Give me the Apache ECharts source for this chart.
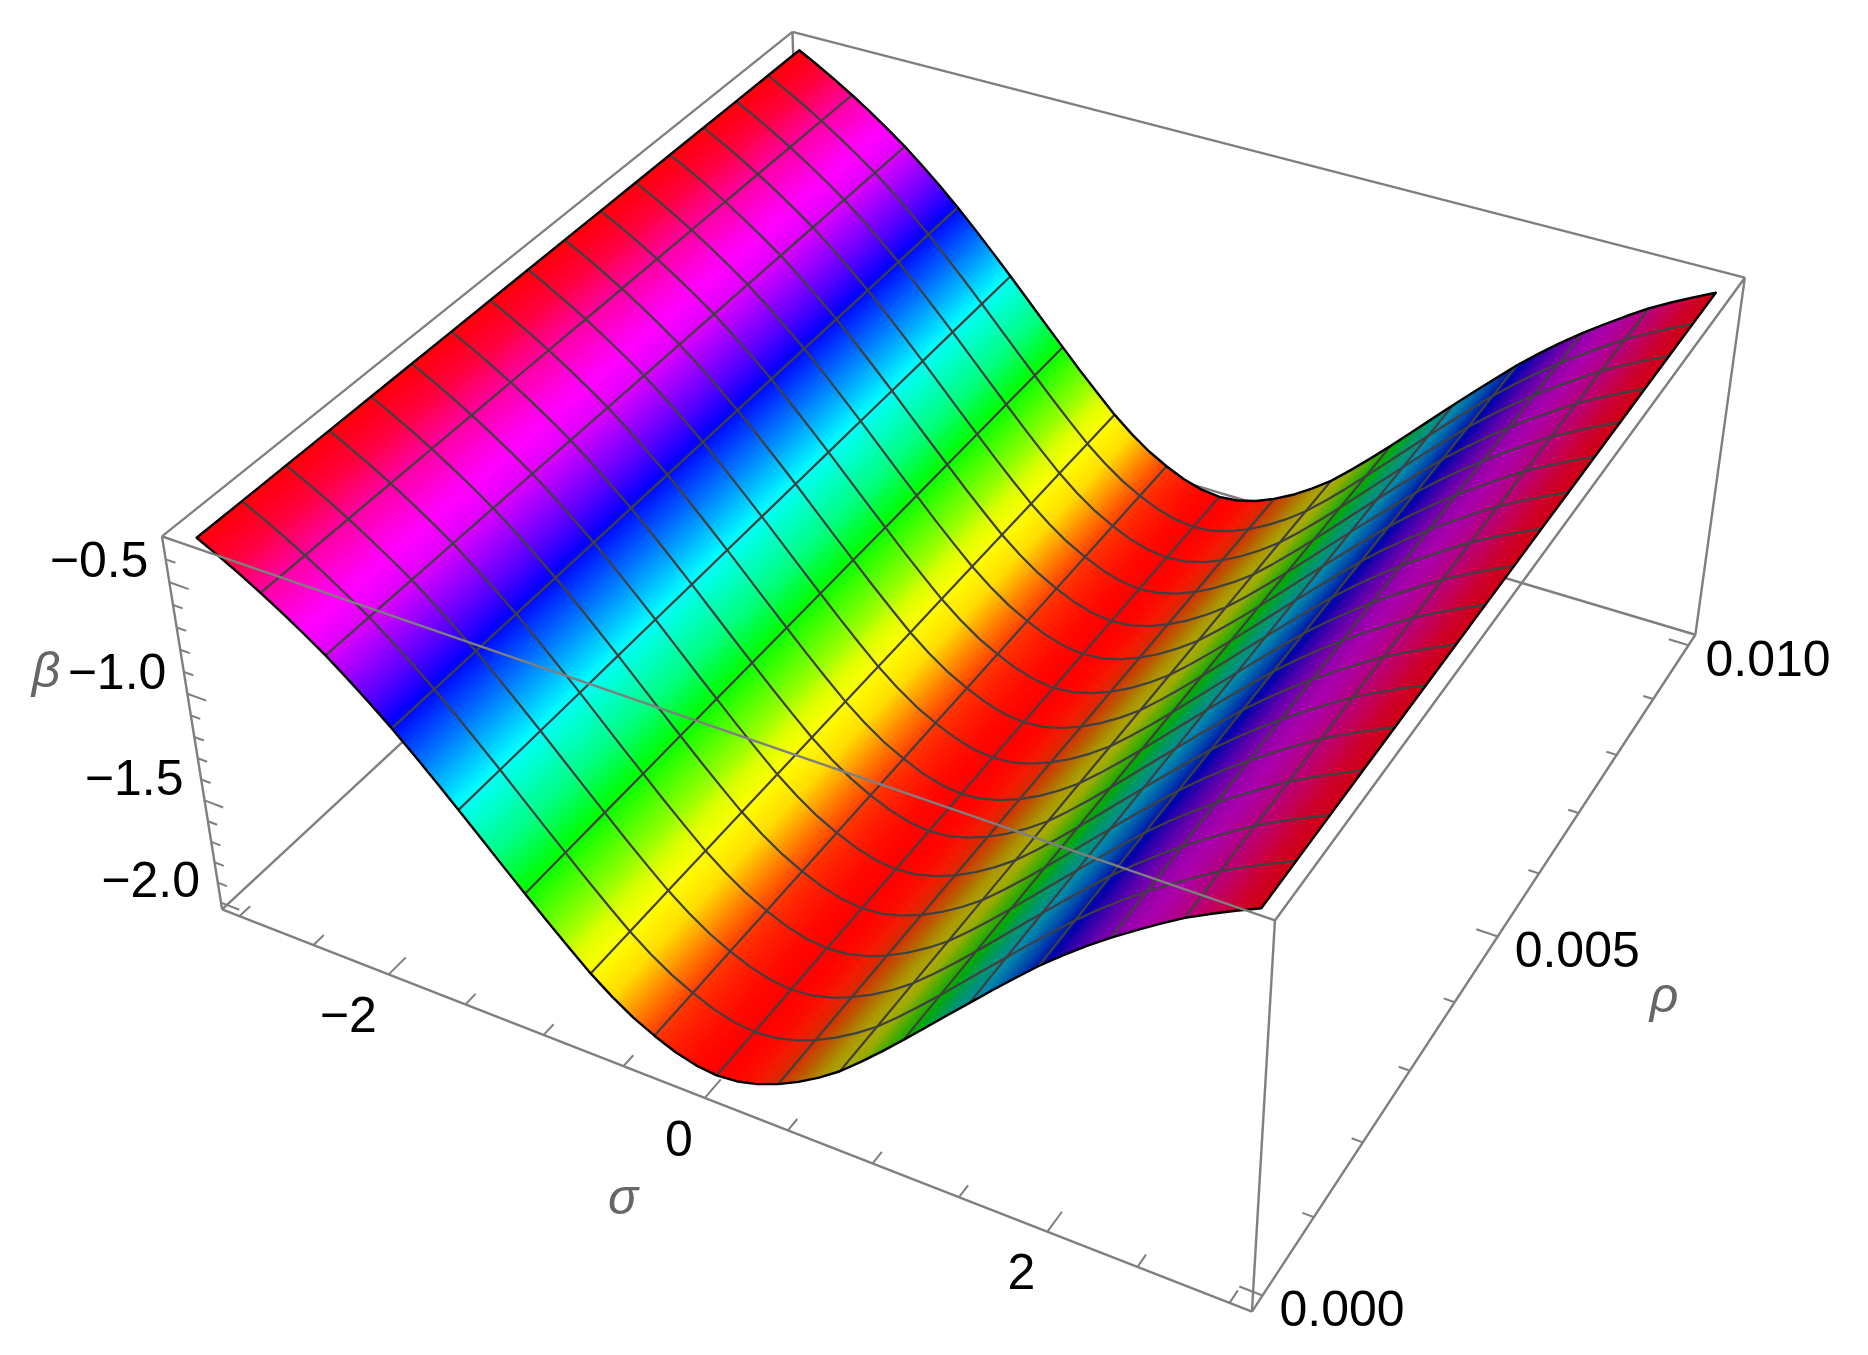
<!DOCTYPE html>
<html><head><meta charset="utf-8">
<style>html,body{margin:0;padding:0;background:#fff}#c{width:1868px;height:1355px}</style>
<script src="https://cdn.jsdelivr.net/npm/echarts@6/dist/echarts.min.js"></script>
</head><body><div id="c"></div>
<script>
// ---- data ----
const sigmaSamples = [-3,-2.875,-2.75,-2.625,-2.5,-2.375,-2.25,-2.125,-2,-1.875,-1.75,-1.625,-1.5,-1.375,-1.25,-1.125,-1,-0.875,-0.75,-0.625,-0.5,-0.375,-0.25,-0.125,0,0.125,0.25,0.375,0.5,0.625,0.75,0.875,1,1.125,1.25,1.375,1.5,1.625,1.75,1.875,2,2.125,2.25,2.375,2.5,2.625,2.75,2.875,3];
const betaValues = [-0.33,-0.377,-0.427,-0.481,-0.539,-0.6,-0.665,-0.738,-0.815,-0.896,-0.984,-1.075,-1.168,-1.264,-1.36,-1.454,-1.548,-1.638,-1.725,-1.8,-1.864,-1.914,-1.955,-1.982,-1.992,-1.983,-1.957,-1.918,-1.868,-1.808,-1.739,-1.656,-1.568,-1.476,-1.382,-1.287,-1.193,-1.099,-1.008,-0.918,-0.836,-0.759,-0.687,-0.62,-0.556,-0.495,-0.443,-0.394,-0.348];
const rhoMesh = [0,0.000625,0.00125,0.001875,0.0025,0.003125,0.00375,0.004375,0.005,0.005625,0.00625,0.006875,0.0075,0.008125,0.00875,0.009375,0.01];
const sigmaTicks = [-3,-2.5,-2,-1.5,-1,-0.5,0,0.5,1,1.5,2,2.5,3];
const sigmaMajor = [-2,0,2];
const sigmaLabels = ['−2','0','2'];
const rhoTicks = [0,0.001,0.002,0.003,0.004,0.005,0.006,0.007,0.008,0.009,0.01];
const rhoMajor = [0,0.005,0.01];
const rhoLabels = ['0.000','0.005','0.010'];
const betaTicks = [-2,-1.9,-1.8,-1.7,-1.6,-1.5,-1.4,-1.3,-1.2,-1.1,-1,-0.9,-0.8,-0.7,-0.6,-0.5,-0.4,-0.3];
const betaMajor = [-2,-1.5,-1,-0.5];
const betaLabels = ['−2.0','−1.5','−1.0','−0.5'];
// colour table: beta -> hue in degrees
const hueBeta = [-1.992,-1.92,-1.86,-1.8,-1.725,-1.66,-1.6,-1.454,-1.33,-1.168,-0.896,-0.8,-0.665,-0.58,-0.481,-0.4,-0.33];
const hueDeg  = [0,12,33,52,60,68,85,118,150,178,238,262,292,302,322,346,358];

// ---- plot box and camera ----
const sigmaRange = [-3.12,3.12], rhoRange = [-0.0002,0.0102], betaRange = [-2.033,-0.3];
// box corners [u,v,w] and where the view places them on the page, used to calibrate the camera
const cameraAnchors = [
 [0,0,1,163,536],[0,0,0,221,908],[1,0,0,1253,1311],[1,0,1,1274,923],
 [1,1,1,1744,278],[1,1,0,1696,633],[0,1,1,793,30],[0,1,0,804,372]
];
function calibrate(a){
  const n=11, N=Array.from({length:n},()=>new Array(n+1).fill(0));
  const add=(r,t)=>{for(let i=0;i<n;i++){for(let k=0;k<n;k++)N[i][k]+=r[i]*r[k];N[i][n]+=r[i]*t;}};
  a.forEach(([u,v,w,x,y])=>{x/=1000;y/=1000;
    add([u,v,w,1,0,0,0,0,-x*u,-x*v,-x*w],x);
    add([0,0,0,0,u,v,w,1,-y*u,-y*v,-y*w],y);});
  for(let c=0;c<n;c++){let p=c;for(let r=c+1;r<n;r++)if(Math.abs(N[r][c])>Math.abs(N[p][c]))p=r;
    [N[c],N[p]]=[N[p],N[c]];
    for(let r=0;r<n;r++)if(r!==c){const f=N[r][c]/N[c][c];for(let k=c;k<=n;k++)N[r][k]-=f*N[c][k];}}
  return N.map((r,i)=>r[n]/r[i]);
}
const P = calibrate(cameraAnchors);
const frac=(v,r)=>(v-r[0])/(r[1]-r[0]);
function project(s,r,b){
  const u=frac(s,sigmaRange),v=frac(r,rhoRange),w=frac(b,betaRange);
  const d=P[8]*u+P[9]*v+P[10]*w+1;
  return [1000*(P[0]*u+P[1]*v+P[2]*w+P[3])/d,1000*(P[4]*u+P[5]*v+P[6]*w+P[7])/d];
}
// ---- colour ----
function hueOf(b){
  if(b<=hueBeta[0])return hueDeg[0];
  for(let i=1;i<hueBeta.length;i++)if(b<=hueBeta[i]){const t=(b-hueBeta[i-1])/(hueBeta[i]-hueBeta[i-1]);return hueDeg[i-1]+t*(hueDeg[i]-hueDeg[i-1]);}
  return hueDeg[hueDeg.length-1];
}
function rgb(h,sh){
  h=((h%360)+360)%360;const x=h/60,c=1-Math.abs(x%2-1);
  const t=[[1,c,0],[c,1,0],[0,1,c],[0,c,1],[c,0,1],[1,0,c]][Math.floor(x)%6];
  const dark=(1-sh)/0.33; // the green light falls off faster on the shaded slope
  t[1]*=1-0.2*dark*Math.max(0,1-Math.abs(h-180)/60);
  return 'rgb('+t.map(v=>Math.round(v*255*sh)).join(',')+')';
}
function slopeAt(i){
  const a=Math.max(0,i-1),b=Math.min(betaValues.length-1,i+1);
  return (betaValues[b]-betaValues[a])/(sigmaSamples[b]-sigmaSamples[a]);
}
function shadeAt(s){ // surface turned away from the light is darker
  let t=(s-0.18)/0.35;t=Math.max(0,Math.min(1,t));t=t*t*(3-2*t);return 1-0.33*t;
}
// ---- rows for the series ----
const cells=[];
for(let j=rhoMesh.length-2;j>=0;j--)for(let i=0;i<sigmaSamples.length-1;i++)cells.push([i,j]);
const rhoLines=rhoMesh.slice(1,-1).map(r=>sigmaSamples.map((s,i)=>[s,r,betaValues[i]]));
const meshSigmaIdx=[];for(let i=3;i<sigmaSamples.length-1;i+=3)meshSigmaIdx.push(i);
const sigmaLines=meshSigmaIdx.map(i=>rhoMesh.map(r=>[sigmaSamples[i],r,betaValues[i]]));
const outline=[
 ...sigmaSamples.map((s,i)=>[s,0,betaValues[i]]),
 ...rhoMesh.map(r=>[3,r,betaValues[betaValues.length-1]]),
 ...sigmaSamples.map((s,i)=>[s,0.01,betaValues[i]]).reverse(),
 ...rhoMesh.map(r=>[-3,r,betaValues[0]]).reverse()
];
const [s0,s1]=sigmaRange,[r0,r1]=rhoRange,[b0,b1]=betaRange;
const backEdges=[
 [[s0,r1,b0],[s0,r1,b1]],[[s0,r0,b0],[s0,r1,b0]],[[s0,r1,b0],[s1,r1,b0]],
 [[s0,r1,b1],[s1,r1,b1]],[[s0,r0,b1],[s0,r1,b1]]
];
const frontEdges=[
 [[s0,r0,b0],[s0,r0,b1]],[[s1,r0,b0],[s1,r0,b1]],[[s1,r1,b0],[s1,r1,b1]],
 [[s0,r0,b0],[s1,r0,b0]],[[s1,r0,b0],[s1,r1,b0]],[[s0,r0,b1],[s1,r0,b1]],[[s1,r0,b1],[s1,r1,b1]]
];
const SR=s1-s0,RR=r1-r0;
const tickRows=[
 ...sigmaTicks.map(s=>{const m=sigmaMajor.includes(s),l=(m?0.025:0.015)*RR;return [[s,r0,b0],[s,r0+l,b0]];}),
 ...rhoTicks.map(r=>{const m=rhoMajor.includes(r),l=(m?0.02:0.01)*SR;return [[s1,r,b0],[s1-l,r,b0]];}),
 ...betaTicks.map(b=>{const m=betaMajor.includes(b),l=(m?0.02:0.01)*SR;return [[s0,r0,b],[s0+l,r0,b]];})
];
const FONT='"Liberation Sans",Arial,sans-serif';
const labelRows=[
 ...sigmaMajor.map((s,i)=>({at:[s,r0,b0],t:sigmaLabels[i],dx:-12,dy:44,al:'right'})),
 ...rhoMajor.map((r,i)=>({at:[s1,r,b0],t:rhoLabels[i],dx:17,dy:17,al:'left'})),
 ...betaMajor.map((b,i)=>({at:[s0,r0,b],t:betaLabels[i],dx:-21,dy:-19,al:'right'}))
];
const titleRows=[
 {t:'β',pos:[46,673]},{t:'σ',pos:[623,1200]},{t:'ρ',pos:[1664,998]}
];
// ---- drawing helpers ----
const pt=(api,p)=>api.coord(project(p[0],p[1],p[2]));
function series(rows,z,draw){
  return {type:'custom',coordinateSystem:'cartesian2d',z,silent:true,animation:false,clip:false,
    data:rows.map((_,i)=>[i]),encode:{x:0,y:0},
    renderItem:(params,api)=>draw(rows[params.dataIndex],api)};
}
const polyline=(api,pts,stroke,w)=>({type:'polyline',shape:{points:pts.map(p=>pt(api,p))},
   style:{fill:null,stroke,lineWidth:w,lineJoin:'round',lineCap:'butt'}});

function drawCell([i,j],api){
  const sA=sigmaSamples[i],sB=sigmaSamples[i+1],bA=betaValues[i],bB=betaValues[i+1];
  const rA=rhoMesh[j],rB=rhoMesh[j+1];
  const a=pt(api,[sA,rA,bA]),b=pt(api,[sA,rB,bA]),c=pt(api,[sB,rB,bB]),d=pt(api,[sB,rA,bB]);
  let ex=b[0]-a[0],ey=b[1]-a[1];const L=Math.hypot(ex,ey);ex/=L;ey/=L;
  const nx=-ey,ny=ex,k=(d[0]-a[0])*nx+(d[1]-a[1])*ny;
  const shA=shadeAt(slopeAt(i)),shB=shadeAt(slopeAt(i+1));
  const stops=[];
  for(let q=0;q<=6;q++){const t=q/6;
    stops.push({offset:t,color:rgb(hueOf(bA+(bB-bA)*t),shA+(shB-shA)*t)});}
  const g={type:'linear',global:true,x:a[0],y:a[1],x2:a[0]+nx*k,y2:a[1]+ny*k,colorStops:stops};
  return {type:'polygon',shape:{points:[a,b,c,d]},style:{fill:g,stroke:g,lineWidth:1}};
}
const option={
  backgroundColor:'#fff',animation:false,
  grid:{left:0,right:0,top:0,bottom:0},
  xAxis:{type:'value',min:0,max:1868,show:false},
  yAxis:{type:'value',min:0,max:1355,inverse:true,show:false},
  series:[
    series(backEdges,1,(e,api)=>polyline(api,e,'#7f7f7f',2.4)),
    series(cells,2,drawCell),
    series(rhoLines,3,(l,api)=>polyline(api,l,'#404040',2.2)),
    series(sigmaLines,3,(l,api)=>polyline(api,l,'#404040',2.2)),
    series([outline],4,(l,api)=>({type:'polygon',shape:{points:l.map(p=>pt(api,p))},style:{fill:null,stroke:'#000',lineWidth:2.4,lineJoin:'round'}})),
    series(frontEdges,5,(e,api)=>polyline(api,e,'#7f7f7f',2.4)),
    series(tickRows,5,(e,api)=>polyline(api,e,'#7f7f7f',2)),
    series(labelRows,6,(r,api)=>{const p=pt(api,r.at);return {type:'text',style:{text:r.t,x:p[0]+r.dx,y:p[1]+r.dy,fill:'#000',font:'50px '+FONT,textAlign:r.al,textVerticalAlign:'middle',align:r.al,verticalAlign:'middle'}};}),
    series(titleRows,6,(r,api)=>{const p=api.coord(r.pos);return {type:'text',style:{text:r.t,x:p[0],y:p[1],fill:'#666666',font:'italic 50px '+FONT,textAlign:'center',textVerticalAlign:'middle',align:'center',verticalAlign:'middle'}};})
  ]
};
echarts.init(document.getElementById('c'),null,{renderer:'canvas'}).setOption(option);
</script></body></html>
